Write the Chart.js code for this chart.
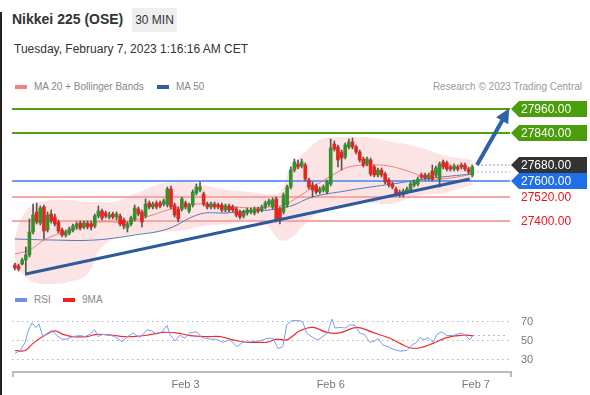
<!DOCTYPE html>
<html>
<head>
<meta charset="utf-8">
<script src="https://cdn.jsdelivr.net/npm/chart.js@4.4.0/dist/chart.umd.min.js"></script>
<style>
  body { margin: 0; background: #fff; font-family: "Liberation Sans", Arial, sans-serif; }
  #wrap { position: relative; width: 590px; height: 395px; overflow: hidden; background: #fff; }
  #edge { position: absolute; left: 0; top: 12px; bottom: 0; width: 2px; background: #222; }
  #title { position: absolute; left: 12px; top: 11px; font-size: 14px; font-weight: bold; color: #333; line-height: 16px; }
  #tf { position: absolute; left: 132px; top: 8px; height: 24px; width: 45px; line-height: 24px; font-size: 12px; color: #333; background: #eee; text-align: center; }
  #date { position: absolute; left: 14px; top: 42px; font-size: 12px; color: #333; line-height: 14px; }
  .sw { position: absolute; width: 12px; height: 4px; }
  .lt { position: absolute; font-size: 10px; color: #888; line-height: 12px; white-space: nowrap; }
  canvas { position: absolute; left: 0; }
</style>
</head>
<body>
<div id="wrap">
  <div id="edge"></div>
  <div id="title">Nikkei 225 (OSE)</div>
  <div id="tf">30 MIN</div>
  <div id="date">Tuesday, February 7, 2023 1:16:16 AM CET</div>

  <div class="sw" style="left:15px;top:85px;background:#f77f7f"></div>
  <div class="lt" style="left:34px;top:81px">MA 20 + Bollinger Bands</div>
  <div class="sw" style="left:157px;top:85px;background:#2f5d9e"></div>
  <div class="lt" style="left:176px;top:81px">MA 50</div>
  <div class="lt" style="right:8px;top:81px;color:#999">Research © 2023 Trading Central</div>

  <div class="sw" style="left:15px;top:298px;background:#6f8fe8"></div>
  <div class="lt" style="left:34px;top:294px">RSI</div>
  <div class="sw" style="left:63px;top:298px;background:#f21e1e"></div>
  <div class="lt" style="left:82px;top:294px">9MA</div>

  <canvas id="price" width="590" height="200" style="top:97px;width:590px;height:200px"></canvas>
  <canvas id="rsi" width="590" height="95" style="top:300px;width:590px;height:95px"></canvas>
</div>
<script>
// x axis is candle index (30 min bars)
const xMin = -0.8, xMax = 136.4;

const opens = [27180,27175,27185,27205,27230,27345,27445,27390,27470,27355,
  27435,27420,27395,27355,27330,27340,27355,27370,27390,27370,
  27390,27385,27375,27425,27450,27440,27420,27435,27420,27425,
  27405,27365,27385,27410,27460,27445,27425,27490,27470,27490,
  27490,27485,27480,27560,27480,27460,27460,27490,27450,27480,
  27540,27555,27535,27485,27470,27485,27480,27480,27455,27475,
  27470,27460,27445,27425,27440,27445,27440,27460,27455,27470,
  27485,27470,27510,27460,27445,27480,27570,27655,27685,27675,
  27680,27605,27580,27575,27545,27555,27545,27585,27785,27770,
  27745,27720,27770,27795,27770,27745,27710,27685,27705,27670,
  27630,27655,27635,27605,27585,27560,27545,27530,27545,27555,
  27580,27585,27630,27630,27615,27650,27630,27610,27695,27690,
  27670,27660,27670,27680,27680,27660,27630];
const highs = [27190,27185,27215,27270,27410,27485,27490,27475,27480,27445,
  27455,27435,27405,27365,27355,27370,27385,27395,27400,27400,
  27400,27400,27435,27475,27460,27450,27445,27445,27445,27435,
  27415,27395,27425,27480,27470,27455,27510,27500,27495,27500,
  27500,27510,27570,27575,27490,27470,27520,27500,27490,27555,
  27585,27595,27545,27495,27495,27495,27490,27490,27485,27485,
  27480,27470,27455,27455,27465,27465,27470,27470,27480,27500,
  27510,27515,27520,27470,27540,27580,27670,27710,27705,27710,
  27690,27615,27595,27585,27570,27580,27605,27810,27800,27780,
  27755,27790,27810,27815,27780,27755,27720,27720,27715,27680,
  27665,27665,27645,27615,27595,27570,27555,27560,27570,27595,
  27605,27620,27640,27640,27640,27680,27675,27695,27705,27700,
  27680,27685,27680,27690,27690,27670,27680];
const lows = [27155,27150,27180,27130,27220,27335,27385,27380,27310,27345,
  27390,27375,27340,27320,27320,27330,27345,27360,27355,27360,
  27360,27355,27365,27415,27405,27415,27410,27410,27405,27375,
  27360,27345,27375,27400,27425,27370,27415,27460,27460,27460,
  27465,27475,27470,27460,27420,27395,27450,27460,27440,27470,
  27530,27545,27475,27460,27460,27460,27460,27445,27445,27445,
  27445,27420,27410,27415,27430,27435,27430,27440,27445,27460,
  27475,27460,27395,27385,27435,27470,27560,27645,27660,27665,
  27600,27560,27520,27535,27535,27545,27535,27575,27750,27670,
  27655,27710,27760,27760,27735,27695,27670,27675,27625,27620,
  27620,27620,27585,27570,27560,27525,27520,27520,27535,27545,
  27570,27575,27610,27605,27605,27600,27620,27570,27660,27650,
  27650,27650,27650,27660,27650,27635,27620];
const closes = [27165,27160,27205,27230,27345,27430,27395,27465,27350,27430,
  27400,27385,27350,27330,27345,27360,27375,27385,27365,27390,
  27370,27370,27425,27450,27415,27425,27430,27420,27435,27385,
  27375,27385,27415,27465,27435,27395,27485,27470,27485,27470,
  27475,27500,27560,27470,27430,27410,27510,27470,27480,27545,
  27570,27570,27485,27470,27485,27470,27470,27455,27475,27455,
  27455,27430,27420,27445,27455,27455,27460,27450,27470,27490,
  27500,27505,27405,27410,27530,27570,27655,27695,27670,27695,
  27610,27570,27555,27545,27560,27570,27595,27765,27760,27705,
  27715,27780,27795,27770,27745,27705,27680,27710,27635,27630,
  27655,27630,27595,27580,27570,27535,27530,27550,27560,27585,
  27595,27610,27620,27615,27630,27610,27665,27685,27670,27660,
  27660,27675,27660,27670,27660,27645,27670];

// Bollinger band envelope and moving averages, read at sparse candle positions
const bandIdx   = [0,2,5,10,15,20,23,27,33,40,47,52,59,65,69,73,76,80,84,89,96,103,111,118,126];
const bandUpper = [27320,27420,27480,27505,27505,27495,27495,27495,27535,27585,27595,27580,27555,27545,27535,27545,27670,27745,27805,27820,27820,27800,27770,27730,27705];
const bandLower = [27185,27135,27095,27085,27095,27135,27245,27310,27335,27345,27355,27375,27385,27405,27385,27305,27315,27385,27445,27475,27495,27485,27525,27540,27580];
const ma20Idx = [0,4,8,12,18,23,30,37,43,50,58,65,70,74,78,83,88,92,98,103,109,114,120,126];
const ma20    = [27235,27255,27305,27335,27365,27395,27395,27425,27460,27485,27475,27465,27470,27480,27520,27580,27635,27670,27680,27675,27645,27610,27615,27635];
const ma50Idx = [0,10,22,33,42,51,58,65,70,76,82,91,98,104,113,123,126];
const ma50    = [27310,27305,27305,27330,27360,27435,27440,27450,27455,27475,27520,27550,27570,27585,27610,27630,27635];

// levels
const resistance = [27960, 27840];
const pivot = [27600];
const support = [27520, 27400];
const lastQuote = 27680;
const markQuote = 27645;
const trendIdx = [3, 125.3];
const trendVal = [27135, 27610];
const arrowIdx = [127.3, 135.6];
const arrowVal = [27680, 27945];

// RSI panel
const rsiIdx = [0,1.4,2.8,3.6,4.7,5.8,6.6,7.7,9.1,10.2,11.6,12.9,14.3,16,17.9,19.3,20.7,22,22.9,24.2,
  26.2,27.5,29.5,31.1,32.5,34.4,36.4,37.7,39.1,40.5,41.9,42.7,44.1,45.5,46.8,48.2,50.1,51.5,53.7,55.6,
  57.3,59.2,61.2,62.8,65.3,67.5,69.4,71.1,72.5,73.8,74.9,76.3,78.5,79.3,80.4,82.1,83.5,84.8,86.2,87.3,
  88.2,89.5,90.9,92.3,93.7,95,96.4,97.8,99.2,100,101.4,102.8,104.1,106.1,108,109.4,110.7,111.6,112.7,113.8,
  115.2,116.3,117.6,119,120.7,123.1,124.5,125.3,126.2];
const rsiVal = [36.8,40,48,60,69,64,68,54.6,58.5,61,55.7,52,52,54.6,55.7,54.6,57,61.8,54.6,57,
  56,54.6,49.3,54.6,58.5,53.6,61.8,60.7,57,59.7,66.4,57,50,56,52.8,58.5,59.7,53.6,52,51.7,
  48.6,51.2,44,48.6,49.3,50,52.8,52.8,42,44,67,71.4,71.4,70,58.2,53.6,51,54.6,58.5,73,
  63.6,64.3,63.6,67,66.4,58.5,56.5,48.6,50,52.8,45.7,44,41.5,39.3,40,45.7,48.6,53.6,51.3,53.6,
  48.6,57,59.7,55.7,55.7,58.5,54.6,51.2,55.7];
const ma9Idx = [0,2.8,5,7.7,11,13.2,16,19.8,22.6,27,29.8,32.5,36.4,40.8,44.6,48.2,52.9,56.5,60.1,63.9,
  67.5,69.4,72.2,74.9,78.5,82.1,86,89.5,94.2,98.6,103.3,106.1,108.8,111.6,115.2,119,123.4,126.2];
const ma9Val = [40,40,47.5,54.6,60.7,57,54.6,54.6,57,56,54.6,54.6,56,59,58.5,55.7,54.6,54.6,51.2,48.6,
  48.6,48.6,52,51.2,60.7,64.3,59,58.5,64.3,59,52.8,47.5,42.9,42.9,47.5,53.6,56,55.7];
const rsiTicks = [30, 50, 70];
const dayTicks = [47, 87, 127];
const dayLabels = ['Feb 3', 'Feb 6', 'Feb 7'];

const pts = (xs, ys) => xs.map((x, i) => ({x: x, y: ys[i]}));
const flat = (v, a, b) => [{x: a, y: v}, {x: b, y: v}];
const UP = '#36902c', DOWN = '#e3261f';

const levelLine = (v, color, order) => ({
  type: 'line', data: flat(v, xMin, xMax), borderColor: color, borderWidth: 2,
  pointRadius: 0, order: order
});

const datasets = [
  { type: 'line', data: pts(bandIdx, bandLower), borderWidth: 0, pointRadius: 0, tension: 0.4, fill: false, order: 20 },
  { type: 'line', data: pts(bandIdx, bandUpper), borderWidth: 0, pointRadius: 0, tension: 0.4, fill: '-1',
    backgroundColor: 'rgba(252,205,205,0.55)', order: 20 },
  ...resistance.map(v => levelLine(v, '#4da20e', 9)),
  ...pivot.map(v => levelLine(v, '#6f9cf2', 9)),
  ...support.map(v => levelLine(v, '#f6a8a8', 9)),
  { type: 'line', data: pts(ma50Idx, ma50), borderColor: '#5a78b4', borderWidth: 1, pointRadius: 0, tension: 0.4, order: 8 },
  { type: 'line', data: pts(ma20Idx, ma20), borderColor: '#f27d7d', borderWidth: 1, pointRadius: 0, tension: 0.4, order: 8 },
  { type: 'line', data: flat(lastQuote, 127.3, xMax), borderColor: '#999', borderWidth: 1, borderDash: [2, 2], pointRadius: 0, order: 7 },
  { type: 'line', data: flat(markQuote, 127.3, xMax), borderColor: '#9db7ee', borderWidth: 1, borderDash: [2, 2], pointRadius: 0, order: 7 },
  { type: 'bar', data: opens.map((o, i) => ({x: i, y: [lows[i], highs[i]]})), backgroundColor: '#555',
    barThickness: 1, grouped: false, order: 3 },
  { type: 'bar', data: opens.map((o, i) => ({x: i, y: [o, closes[i]]})),
    backgroundColor: opens.map((o, i) => closes[i] >= o ? UP : DOWN),
    barThickness: 3, minBarLength: 1, grouped: false, order: 2 },
  { type: 'line', data: pts(trendIdx, trendVal), borderColor: '#2d5a9b', borderWidth: 3, pointRadius: 0, order: 1 },
  { type: 'line', data: pts(arrowIdx, arrowVal), borderColor: '#2f62a8', borderWidth: 4, pointRadius: 0, order: 0, arrow: true }
];

const tags = [
  ...resistance.map(v => ({v: v, bg: '#4b9e0b', fg: '#fff'})),
  {v: lastQuote, bg: '#333', fg: '#fff'},
  ...pivot.map(v => ({v: v, bg: '#1f6fe8', fg: '#fff'})),
  ...support.map(v => ({v: v, bg: null, fg: '#e8141b'}))
];

const tagPlugin = {
  id: 'tags',
  afterDraw(chart) {
    const {ctx, chartArea, scales} = chart;
    ctx.save();
    // arrow head
    chart.data.datasets.forEach((ds, di) => {
      if (!ds.arrow) return;
      const p = chart.getDatasetMeta(di).data;
      const a = p[p.length - 2], b = p[p.length - 1];
      const ang = Math.atan2(b.y - a.y, b.x - a.x);
      ctx.fillStyle = ds.borderColor;
      ctx.beginPath();
      ctx.moveTo(b.x + 4 * Math.cos(ang), b.y + 4 * Math.sin(ang));
      ctx.lineTo(b.x - 10 * Math.cos(ang) - 7 * Math.sin(ang), b.y - 10 * Math.sin(ang) + 7 * Math.cos(ang));
      ctx.lineTo(b.x - 10 * Math.cos(ang) + 7 * Math.sin(ang), b.y - 10 * Math.sin(ang) - 7 * Math.cos(ang));
      ctx.closePath();
      ctx.fill();
    });
    ctx.font = '12px "Liberation Sans", Arial, sans-serif';
    ctx.textBaseline = 'middle';
    tags.forEach(t => {
      const y = Math.round(scales.y.getPixelForValue(t.v));
      const x0 = chartArea.right + 1;
      if (t.bg) {
        ctx.fillStyle = t.bg;
        ctx.beginPath();
        ctx.moveTo(x0, y);
        ctx.lineTo(x0 + 8, y - 8);
        ctx.lineTo(587, y - 8);
        ctx.lineTo(587, y + 8);
        ctx.lineTo(x0 + 8, y + 8);
        ctx.closePath();
        ctx.fill();
      }
      ctx.fillStyle = t.fg;
      ctx.fillText(t.v.toFixed(2), x0 + 10, y + 1);
    });
    ctx.restore();
  }
};

new Chart(document.getElementById('price'), {
  type: 'bar',
  data: { datasets: datasets },
  options: {
    responsive: false,
    animation: false,
    layout: { padding: { left: 12, right: 80, top: 5, bottom: 5 } },
    scales: {
      x: { type: 'linear', min: xMin, max: xMax, offset: false, display: false, grid: { offset: false } },
      y: { type: 'linear', min: 27045, max: 27995, display: false }
    },
    plugins: { legend: { display: false }, tooltip: { enabled: false } }
  },
  plugins: [tagPlugin]
});

const axisLine = {
  id: 'axisLine',
  afterDraw(chart) {
    const {ctx, chartArea: a} = chart;
    ctx.save();
    ctx.strokeStyle = '#bbb';
    ctx.lineWidth = 2;
    ctx.beginPath();
    ctx.moveTo(a.left + 1, a.bottom + 6);
    ctx.lineTo(a.left + 1, a.bottom + 1);
    ctx.lineTo(a.right + 1, a.bottom + 1);
    ctx.lineTo(a.right + 1, a.bottom + 6);
    ctx.stroke();
    ctx.restore();
  }
};

// the layout keeps the plot top about 17px below the canvas top, so the range is set to put 70/50/30 on the reference rows
new Chart(document.getElementById('rsi'), {
  type: 'line',
  data: {
    datasets: [
      { data: pts(rsiIdx, rsiVal), borderColor: '#7c9bee', borderWidth: 1, pointRadius: 0, tension: 0, clip: false },
      { data: pts(ma9Idx, ma9Val), borderColor: '#f22a2a', borderWidth: 1.2, pointRadius: 0, tension: 0.4 },
      { data: flat(rsiVal[rsiVal.length - 1], rsiIdx[rsiIdx.length - 1], 135.5), borderColor: '#9db5f0',
        borderWidth: 1, borderDash: [2, 3], pointRadius: 0 }
    ]
  },
  options: {
    responsive: false,
    animation: false,
    layout: { padding: { left: 12, right: 0, top: 1, bottom: 0 } },
    scales: {
      x: {
        type: 'linear', min: xMin, max: xMax,
        grid: { display: false, drawTicks: false },
        border: { display: false },
        afterBuildTicks: s => { s.ticks = dayTicks.map(v => ({value: v})); },
        afterFit: s => { s.height = 24; },
        ticks: { autoSkip: false, maxRotation: 0, padding: 7, color: '#777',
          font: { size: 11, family: '"Liberation Sans", Arial, sans-serif' },
          callback: (v, i) => dayLabels[i] }
      },
      y: {
        type: 'linear', position: 'right', min: 18.4, max: 74.6,
        grid: { color: '#b5b5b5', drawTicks: false },
        border: { display: false, dash: [1.5, 3.5] },
        afterBuildTicks: s => { s.ticks = rsiTicks.map(v => ({value: v})); },
        afterFit: s => { s.width = 80; },
        ticks: { padding: 11, color: '#777', font: { size: 11, family: '"Liberation Sans", Arial, sans-serif' } }
      }
    },
    plugins: { legend: { display: false }, tooltip: { enabled: false } }
  },
  plugins: [axisLine]
});
</script>
</body>
</html>
